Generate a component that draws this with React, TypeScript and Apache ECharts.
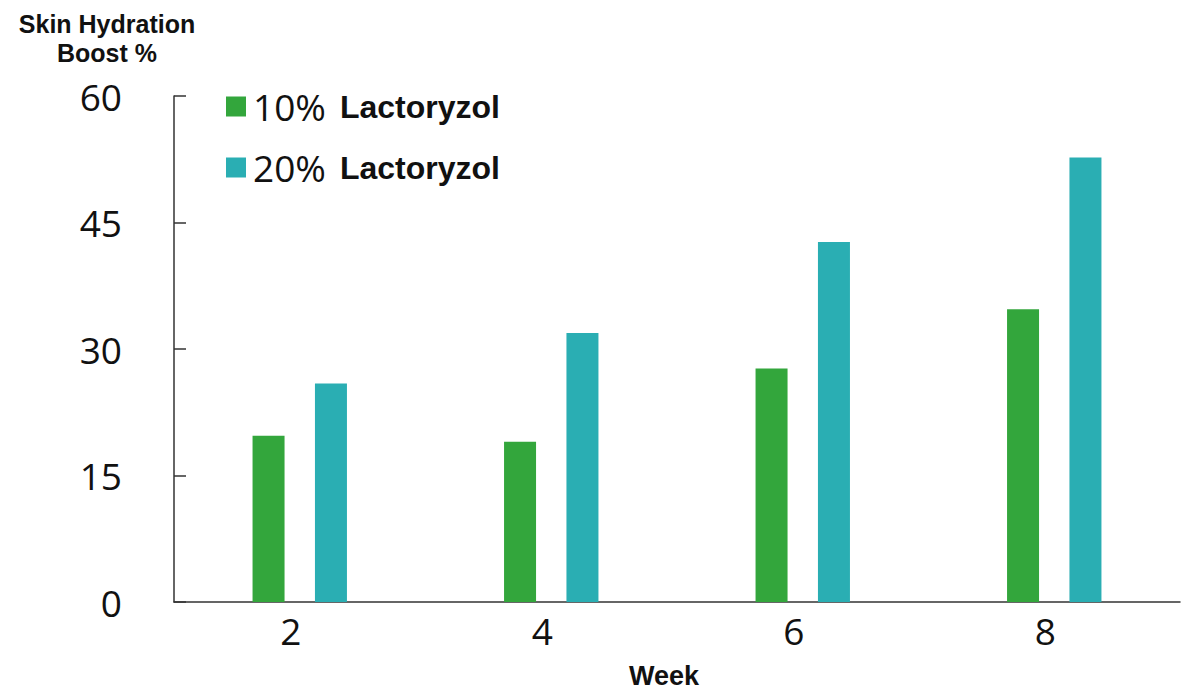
import React, { useEffect, useRef } from "react";
import * as echarts from "echarts";

const weeks = ["2", "4", "6", "8"];
const series10 = [19.7, 19.0, 27.7, 34.7];
const series20 = [25.9, 31.9, 42.7, 52.7];
const seriesNames = ["10% Lactoryzol", "20% Lactoryzol"];
const yTicks = { min: 0, max: 60, interval: 15 };

export default function App() {
  const ref = useRef<HTMLDivElement>(null);
  useEffect(() => {
    if (!ref.current) return;
    const chart = echarts.init(ref.current, null, { renderer: "svg" });
    chart.setOption({
      animation: false,
      backgroundColor: "#ffffff",
      grid: {
        left: 174,
        right: 5,
        top: 96,
        bottom: 87,
        containLabel: false,
        outerBoundsMode: "none",
      },
      graphic: [
        {
          type: "text",
          x: 107,
          y: 9,
          style: {
            text: "Skin Hydration\nBoost %",
            textAlign: "center",
            fontFamily: "Liberation Sans",
            fontWeight: "bold",
            fontSize: 25,
            lineHeight: 29,
            fill: "#111",
          },
        },
      ],
      legend: {
        orient: "vertical",
        left: 226,
        top: 88,
        padding: 0,
        itemWidth: 20,
        itemHeight: 20,
        itemGap: 24,
        icon: "rect",
        data: seriesNames,
        formatter: (name: string) => {
          const idx = name.indexOf(" ");
          return `{n|${name.slice(0, idx)}}{b|${name.slice(idx + 1)}}`;
        },
        textStyle: {
          padding: [0, 0, 0, 2],
          rich: {
            n: { fontFamily: "Open Sans", fontSize: 37, color: "#111", lineHeight: 40 },
            b: {
              fontFamily: "Liberation Sans",
              fontWeight: "bold",
              fontSize: 32,
              color: "#111",
              lineHeight: 40,
              padding: [0, 0, 0, 14],
            },
          },
        },
      },
      xAxis: {
        type: "category",
        data: weeks,
        name: "Week",
        nameLocation: "middle",
        nameGap: 60,
        nameTextStyle: {
          fontFamily: "Liberation Sans",
          fontWeight: "bold",
          fontSize: 27,
          lineHeight: 27,
          color: "#111",
          padding: [0, 26, 0, 0],
        },
        axisLine: { lineStyle: { color: "#333", width: 1.5 } },
        axisTick: { show: false },
        axisLabel: {
          fontFamily: "Open Sans",
          fontSize: 37,
          color: "#111",
          margin: 10,
          padding: [0, 18, 0, 0],
        },
      },
      yAxis: {
        type: "value",
        min: yTicks.min,
        max: yTicks.max,
        interval: yTicks.interval,
        splitLine: { show: false },
        axisLine: { show: true, lineStyle: { color: "#333", width: 1.5 } },
        axisTick: { show: true, inside: true, length: 12, lineStyle: { color: "#333", width: 1.5 } },
        axisLabel: {
          fontFamily: "Open Sans",
          fontSize: 37,
          color: "#111",
          margin: 52,
          padding: [0, 0, 6, 0],
        },
      },
      series: [
        {
          name: seriesNames[0],
          type: "bar",
          data: series10,
          barWidth: 32,
          barGap: "95%",
          itemStyle: { color: "#33a63c" },
        },
        {
          name: seriesNames[1],
          type: "bar",
          data: series20,
          barWidth: 32,
          barGap: "95%",
          itemStyle: { color: "#2aaeb3" },
        },
      ],
    });
    return () => chart.dispose();
  }, []);
  return <div ref={ref} style={{ width: 1185, height: 689, position: "absolute", left: 0, top: 0 }} />;
}
